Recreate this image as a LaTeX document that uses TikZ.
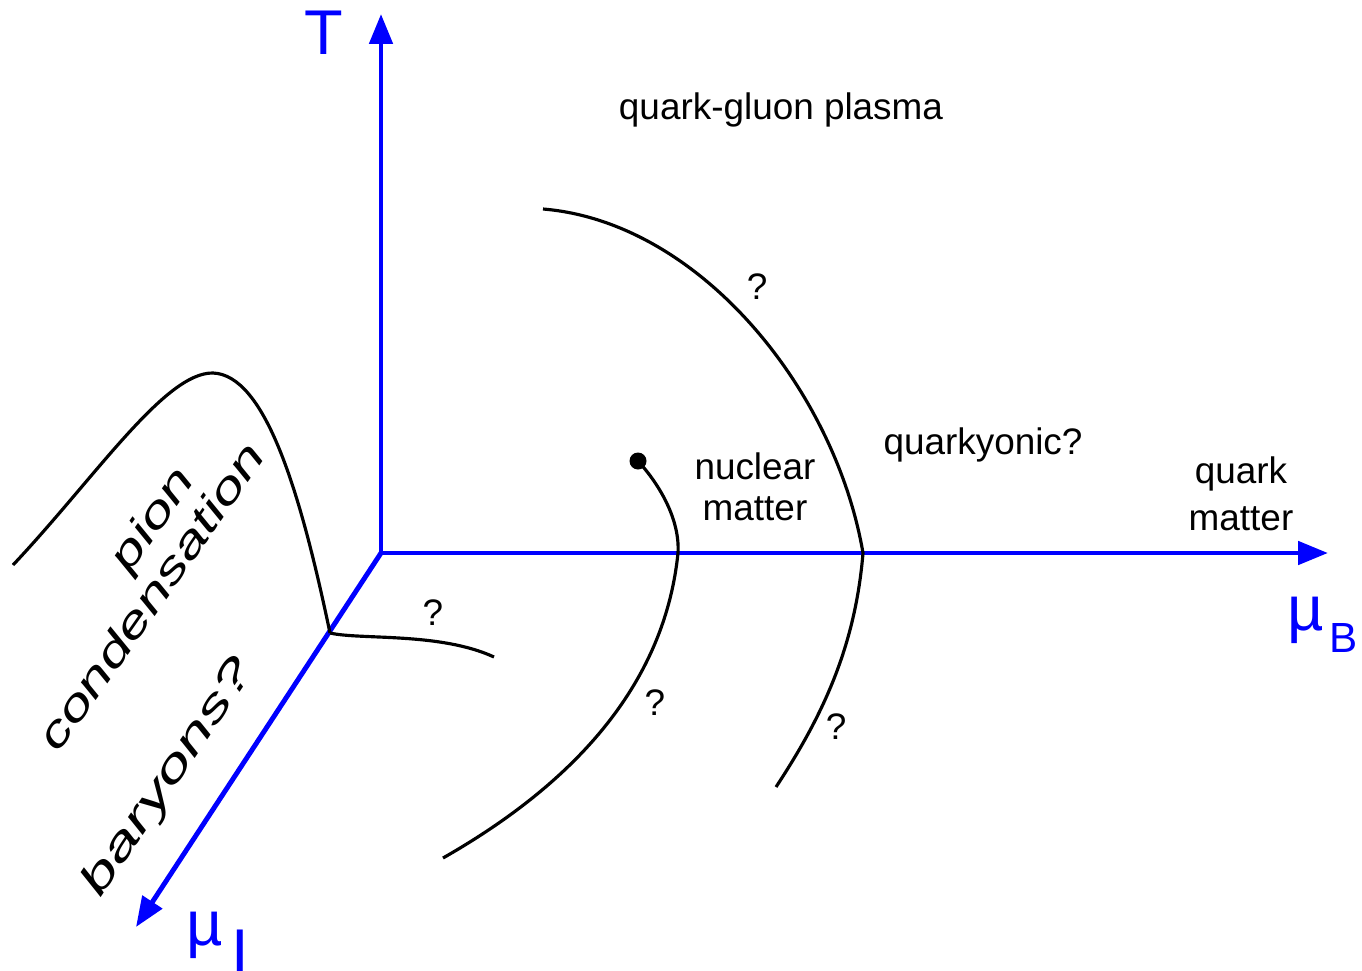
\documentclass[tikz,border=0pt]{standalone}
\usepackage{fontspec}
\setmainfont{Liberation Sans}
\usetikzlibrary{arrows.meta, positioning}

\begin{document}
\begin{tikzpicture}[
    x=0.02cm, y=-0.02cm,
    axis/.style={-{Triangle[length=0.6cm, width=0.46cm]}, line width=2.8pt, color=blue},
    phaseline/.style={line width=1.8pt, color=black},
    axlbl/.style={text=blue, inner sep=0pt, font=\fontsize{36}{40}\selectfont},
    lbl/.style={align=center, inner sep=0pt, font=\fontsize{21}{23.5}\selectfont},
    qlbl/.style={inner sep=0pt, font=\fontsize{21}{23.5}\selectfont},
    tilted/.style={inner sep=0pt, rotate=#1, xscale=1.45, font=\fontsize{24}{28}\selectfont\itshape},
    critpt/.style={circle, fill=black, inner sep=0pt, minimum size=0.34cm}
]
\useasboundingbox (0,0) rectangle (1362,970);

% axes
\coordinate (O) at (381,553);
\coordinate (Ttip) at (381,14);
\coordinate (Btip) at (1328,553);
\coordinate (Itip) at (136,927);
\draw[axis] (O) -- (Ttip);
\draw[axis] (O) -- (Btip);
\draw[axis] (O) -- (Itip);
\node[axlbl] (Tlbl) at (324,33) {T};
\node[axlbl, anchor=base west] (Blbl) at (1287,630) {µ\kern3pt\raisebox{-13pt}{\fontsize{24}{28}\selectfont B}};
\node[axlbl, anchor=base west] (Ilbl) at (186,945) {µ\kern5pt\raisebox{-16pt}{I}};

% phase boundaries
\coordinate (pionA) at (13,565);
\coordinate (J) at (330,633);
\coordinate (barB) at (494,657);
\draw[phaseline] (pionA) .. controls (95,478) and (165,372) .. (213,373)
    .. controls (265,375) and (300,490) .. (J);
\draw[phaseline] (J) .. controls (360,640) and (440,632) .. (barB);

\coordinate (arcA) at (543,209);
\coordinate (arcM) at (863,553);
\coordinate (arcB) at (776,787);
\draw[phaseline] (arcA) .. controls (700,222) and (835,390) .. (arcM)
    .. controls (855,650) and (820,720) .. (arcB);

\node[critpt] (cp) at (638,461) {};
\coordinate (inM) at (678,553);
\coordinate (inB) at (443,858);
\draw[phaseline] (cp.center) .. controls (660,485) and (680,520) .. (inM)
    .. controls (665,680) and (580,780) .. (inB);

% regions
\node[lbl] (qgp) at (781,110) {quark-gluon plasma};
\node[lbl] (nuc) at (755,487) {nuclear\\matter};
\node[lbl] (qyon) at (983,445) {quarkyonic?};
\node[lbl, font=\fontsize{21}{27}\selectfont] (qm) at (1241,494) {quark\\matter};
\node[tilted=55, anchor=base] (pion) at (163,527) {pion};
\node[tilted=55, anchor=base] (cond) at (163,605) {condensation};
\node[tilted=56, xscale=1.1] (bary) at (169,778) {baryons?};

% open questions
\node[qlbl] (q1) at (757,287) {?};
\node[qlbl] (q2) at (655,703) {?};
\node[qlbl] (q3) at (836,727) {?};
\node[qlbl] (q4) at (433,613) {?};
\end{tikzpicture}
\end{document}
